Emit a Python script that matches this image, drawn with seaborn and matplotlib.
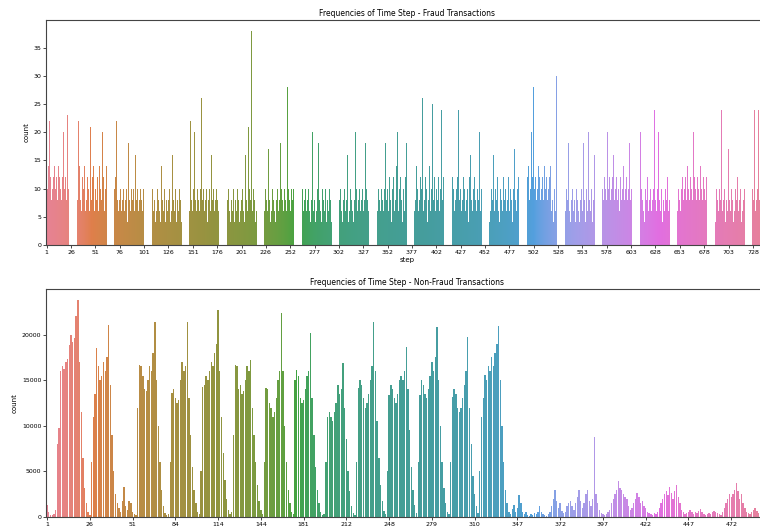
import numpy as np
import pandas as pd
import matplotlib
matplotlib.use("Agg")
import matplotlib.pyplot as plt
import seaborn as sns

# fraud transactions per time step (steps with no fraud are not in the data)
fraud_missing_steps = [248, 512]
fraud_counts = [
    12, 10, 14, 22, 12, 8, 10, 12, 14, 10, 12, 8, 14, 12, 10, 8, 12, 20, 10, 12, 8, 23, 10, 6, 8,
    10, 6, 8, 14, 12, 6, 10, 8, 22, 14, 8, 6, 12, 10, 14, 6, 8, 12, 10, 6, 21, 8, 12, 14, 6,
    10, 8, 12, 6, 14, 10, 8, 20, 12, 6, 10, 14, 8, 24, 12, 6, 10, 8, 14, 20, 10, 12, 22, 8, 6,
    8, 10, 6, 8, 10, 6, 8, 10, 4, 18, 8, 6, 10, 8, 10, 6, 16, 8, 10, 6, 8, 10, 8, 6, 10,
    8, 6, 10, 18, 8, 10, 6, 4, 8, 10, 6, 8, 4, 6, 10, 8, 6, 4, 14, 8, 6, 10, 4, 8, 6,
    8, 10, 4, 6, 16, 8, 6, 10, 4, 8, 6, 10, 8, 4, 17, 6, 8, 10, 6, 4, 8, 10, 6, 22, 8,
    6, 10, 20, 8, 6, 10, 8, 6, 10, 26, 8, 10, 6, 8, 10, 4, 8, 10, 6, 16, 8, 10, 6, 8, 10,
    8, 6, 18, 10, 8, 6, 10, 8, 10, 6, 17, 8, 10, 6, 4, 8, 6, 10, 4, 8, 6, 10, 8, 4, 6,
    8, 10, 6, 4, 16, 8, 6, 21, 10, 8, 38, 6, 10, 8, 4, 6, 10, 8, 20, 6, 8, 10, 4, 8, 6,
    10, 8, 6, 17, 8, 4, 6, 10, 8, 6, 4, 8, 10, 6, 8, 18, 10, 8, 6, 10, 8, 6, 28, 10, 8,
    6, 10, 8, 10, 20, 6, 8, 10, 8, 6, 10, 22, 8, 10, 6, 8, 10, 6, 8, 10, 6, 4, 8, 20, 6,
    8, 4, 6, 10, 18, 8, 6, 4, 10, 8, 6, 10, 4, 8, 6, 10, 8, 4, 6, 8, 22, 6, 10, 8, 4,
    6, 8, 10, 6, 4, 8, 10, 6, 8, 16, 4, 6, 10, 8, 6, 4, 8, 20, 10, 6, 8, 10, 6, 8, 10,
    6, 8, 18, 10, 8, 6, 10, 8, 6, 10, 8, 18, 6, 10, 8, 6, 10, 8, 6, 10, 8, 6, 10, 18, 8,
    10, 6, 12, 8, 4, 10, 12, 6, 8, 14, 20, 6, 10, 12, 8, 4, 10, 6, 12, 18, 8, 10, 6, 12, 8,
    4, 10, 12, 6, 8, 14, 10, 6, 8, 12, 10, 26, 6, 8, 12, 10, 4, 8, 14, 6, 10, 25, 8, 12, 6,
    10, 8, 12, 6, 10, 24, 8, 12, 10, 6, 20, 10, 8, 12, 6, 10, 8, 12, 10, 6, 8, 10, 12, 24, 8,
    10, 6, 8, 12, 10, 6, 8, 10, 4, 12, 16, 8, 6, 10, 12, 8, 6, 10, 8, 20, 6, 10, 8, 4, 12,
    8, 6, 10, 12, 8, 4, 6, 10, 8, 16, 6, 10, 8, 12, 6, 4, 10, 8, 6, 12, 8, 10, 6, 8, 12,
    6, 10, 8, 4, 10, 17, 8, 6, 10, 12, 8, 10, 12, 8, 10, 14, 12, 8, 10, 12, 14, 8, 10, 20, 12,
    28, 10, 12, 8, 10, 14, 12, 8, 10, 12, 8, 14, 10, 12, 8, 10, 12, 14, 6, 8, 4, 10, 6, 30, 8,
    6, 10, 4, 8, 6, 10, 8, 4, 6, 10, 8, 18, 6, 4, 8, 10, 6, 8, 4, 10, 8, 6, 4, 8, 10,
    6, 18, 8, 4, 10, 6, 20, 8, 6, 10, 4, 8, 16, 6, 10, 8, 4, 6, 10, 8, 12, 10, 8, 12, 10,
    8, 20, 10, 12, 8, 10, 12, 16, 8, 10, 12, 8, 10, 6, 12, 8, 10, 14, 8, 10, 12, 8, 10, 18, 8,
    10, 12, 8, 6, 10, 8, 4, 10, 8, 6, 20, 10, 8, 6, 4, 10, 8, 12, 6, 8, 10, 6, 8, 10, 24,
    8, 6, 10, 20, 8, 6, 10, 4, 8, 6, 10, 8, 12, 6, 8, 10, 4, 6, 8, 10, 6, 12, 8, 6, 10,
    8, 6, 10, 12, 8, 10, 12, 8, 14, 10, 8, 12, 10, 8, 20, 12, 10, 8, 12, 10, 8, 14, 10, 8, 12,
    10, 8, 12, 6, 22, 8, 10, 6, 8, 10, 6, 8, 4, 10, 8, 6, 10, 8, 24, 6, 8, 10, 4, 8, 6,
    17, 8, 6, 10, 8, 4, 6, 10, 8, 12, 6, 8, 10, 4, 6, 8, 10, 6, 12, 8, 6, 10, 8, 4, 6,
    10, 8, 24, 6, 8, 10, 24, 8, 6, 10, 8, 12, 6, 10, 8, 12,
]
fraud_steps = [s for s in range(1, 744) if s not in fraud_missing_steps]

# non-fraud transactions per time step, one list per daily burst (quiet night hours are absent)
day01 = [1300, 500, 250, 260, 300, 750, 8000, 9700, 16000, 16500, 16200, 17000, 17300,
         18800, 20000, 19200, 19600, 22000, 23800, 17000, 11500, 6500, 3200, 1500, 600, 200]
day02 = [6000, 11000, 13500, 18500, 16500, 15000, 15500, 17000, 16000, 17500, 21000, 14500,
         9000, 5000, 2500, 1500, 1000, 600, 1800, 3300, 1200, 800, 1800, 1500, 600, 300, 200]
day03 = [12000, 16700, 16500, 15500, 14000, 13800, 15000, 16500, 16000, 18000, 21400, 15000,
         10000, 6000, 3000, 1200, 400]
day04 = [200, 300, 6000, 13600, 14000, 13000, 12500, 12800, 15000, 17000, 16000, 16500,
         21400, 13000, 9000, 5500, 3000, 1500, 500]
day05 = [300, 5000, 14300, 14500, 15500, 15000, 16000, 17000, 16500, 18000, 19000, 22700,
         16000, 11000, 7000, 4000, 2000, 800, 300]
day06 = [500, 9000, 16700, 16500, 14000, 14500, 13500, 13800, 15000, 16500, 16000, 17250,
         12000, 9000, 6000, 3500, 1800, 800, 300]
day07 = [6000, 14100, 14000, 12500, 12000, 11000, 11500, 13000, 15000, 16000, 22400, 16000,
         10000, 6000, 3000, 1500, 500]
day08 = [300, 15000, 16100, 15500, 13000, 12500, 12800, 14000, 15500, 16000, 20200, 13000,
         9000, 5500, 3000, 1500, 600, 200]
day09 = [300, 6000, 11000, 11500, 11000, 10500, 11500, 12500, 14500, 13500, 14000, 16900,
         12000, 8500, 5000, 2800, 1200, 400]
day10 = [200, 6000, 14100, 15000, 14500, 13000, 12000, 12500, 13500, 15000, 16500, 21400,
         16000, 10500, 6500, 3500, 1800, 700, 300]
day11 = [5000, 13400, 14500, 14000, 13000, 12500, 13500, 15000, 15500, 15000, 16000, 18600,
         14000, 9500, 5500, 3000, 1300, 400]
day12 = [6000, 13400, 15000, 14500, 13500, 13000, 14000, 15500, 17000, 16000, 17500, 20800,
         15000, 10000, 6000, 3200, 1500, 500]
day13 = [300, 6000, 13200, 14000, 13500, 12000, 11500, 12000, 13000, 14500, 16000, 19700,
         12000, 8000, 4500, 2500, 1200, 400]
day14 = [5000, 11000, 13000, 15600, 15000, 16500, 16000, 17500, 16500, 18000, 19000, 20900,
         15000, 10000, 6000, 3000, 1500, 600]
late_days = [
    300, 900, 1300, 600, 1000, 2400, 1500, 500, 300, 600, 200, 150, 300, 200, 400, 300,
    600, 1200, 500, 300, 200, 150, 300, 500, 1200, 2000, 3000, 1800, 1000, 1500, 700, 400,
    600, 1200, 1500, 1800, 1200, 800, 1500, 2200, 3000, 1800, 1000, 1500, 2500, 3000, 1800,
    1200, 2000, 8800, 2500, 1500, 800, 400, 300, 200, 300, 500, 800, 1500, 2000, 2500, 3000,
    3900, 3200, 3000, 2500, 2200, 2000, 1200, 800, 1000, 1500, 2000, 2600, 2200, 1500, 1800,
    1200, 1000, 600, 400, 300, 250, 400, 300, 600, 1000, 1500, 2000, 2500, 2800, 2400, 3300,
    2600, 2000, 2800, 3500, 2200, 1500, 800, 500, 300, 400, 600, 800, 500, 300, 600, 400,
    700, 900, 600, 300, 200, 300, 400, 300, 500, 700, 600, 400, 300, 200, 500, 1000, 1500,
    2000, 2500, 2200, 2500, 3000, 3700, 2800, 2000, 2500, 1500, 1000, 600, 400, 300, 500,
    800, 1000, 700, 400, 300, 200, 300, 500, 800,
]
nonfraud_blocks = [day01, day02, day03, day04, day05, day06, day07, day08, day09, day10,
                   day11, day12, day13, day14, late_days]
block_first_step = [1, 27, 55, 79, 103, 127, 151, 175, 199, 223, 247, 271, 295, 319, 343]

nonfraud_steps = []
nonfraud_counts = []
for first, block in zip(block_first_step, nonfraud_blocks):
    nonfraud_steps += list(range(first, first + len(block)))
    nonfraud_counts += block

fraud = pd.DataFrame({"step": [str(s) for s in fraud_steps], "count": fraud_counts})
nonfraud = pd.DataFrame({"step": [str(s) for s in nonfraud_steps], "count": nonfraud_counts})

fig = plt.figure(figsize=(7.6, 5.29), dpi=100)
# axes run a little past the right edge, as in the original (cropped) screenshot
ax1 = fig.add_axes([0.0608, 0.5369, 0.9497, 0.4253])
ax2 = fig.add_axes([0.0608, 0.0227, 0.9497, 0.4310])


def draw(ax, df, title, yticks):
    sns.barplot(data=df, x="step", y="count", hue="step", legend=False,
                errorbar=None, ax=ax)
    n = len(df)
    ticks = list(range(0, n, 25))
    ax.set_xticks(ticks)
    ax.set_xticklabels(df["step"].iloc[ticks], fontsize=4.5)
    ax.set_yticks(yticks)
    ax.set_yticklabels([str(v) for v in yticks], fontsize=4.5)
    ax.tick_params(length=2, width=0.5, pad=1.5)
    ax.set_title(title, fontsize=5.5, pad=3)
    ax.set_xlabel("step", fontsize=5, labelpad=1.5)
    ax.set_ylabel("count", fontsize=5, labelpad=3)
    for sp in ax.spines.values():
        sp.set_linewidth(0.8)
        sp.set_color("#444444")


draw(ax1, fraud, "Frequencies of Time Step - Fraud Transactions", list(range(0, 40, 5)))
draw(ax2, nonfraud, "Frequencies of Time Step - Non-Fraud Transactions",
     [0, 5000, 10000, 15000, 20000])

fig.savefig("out.png", dpi=100)
